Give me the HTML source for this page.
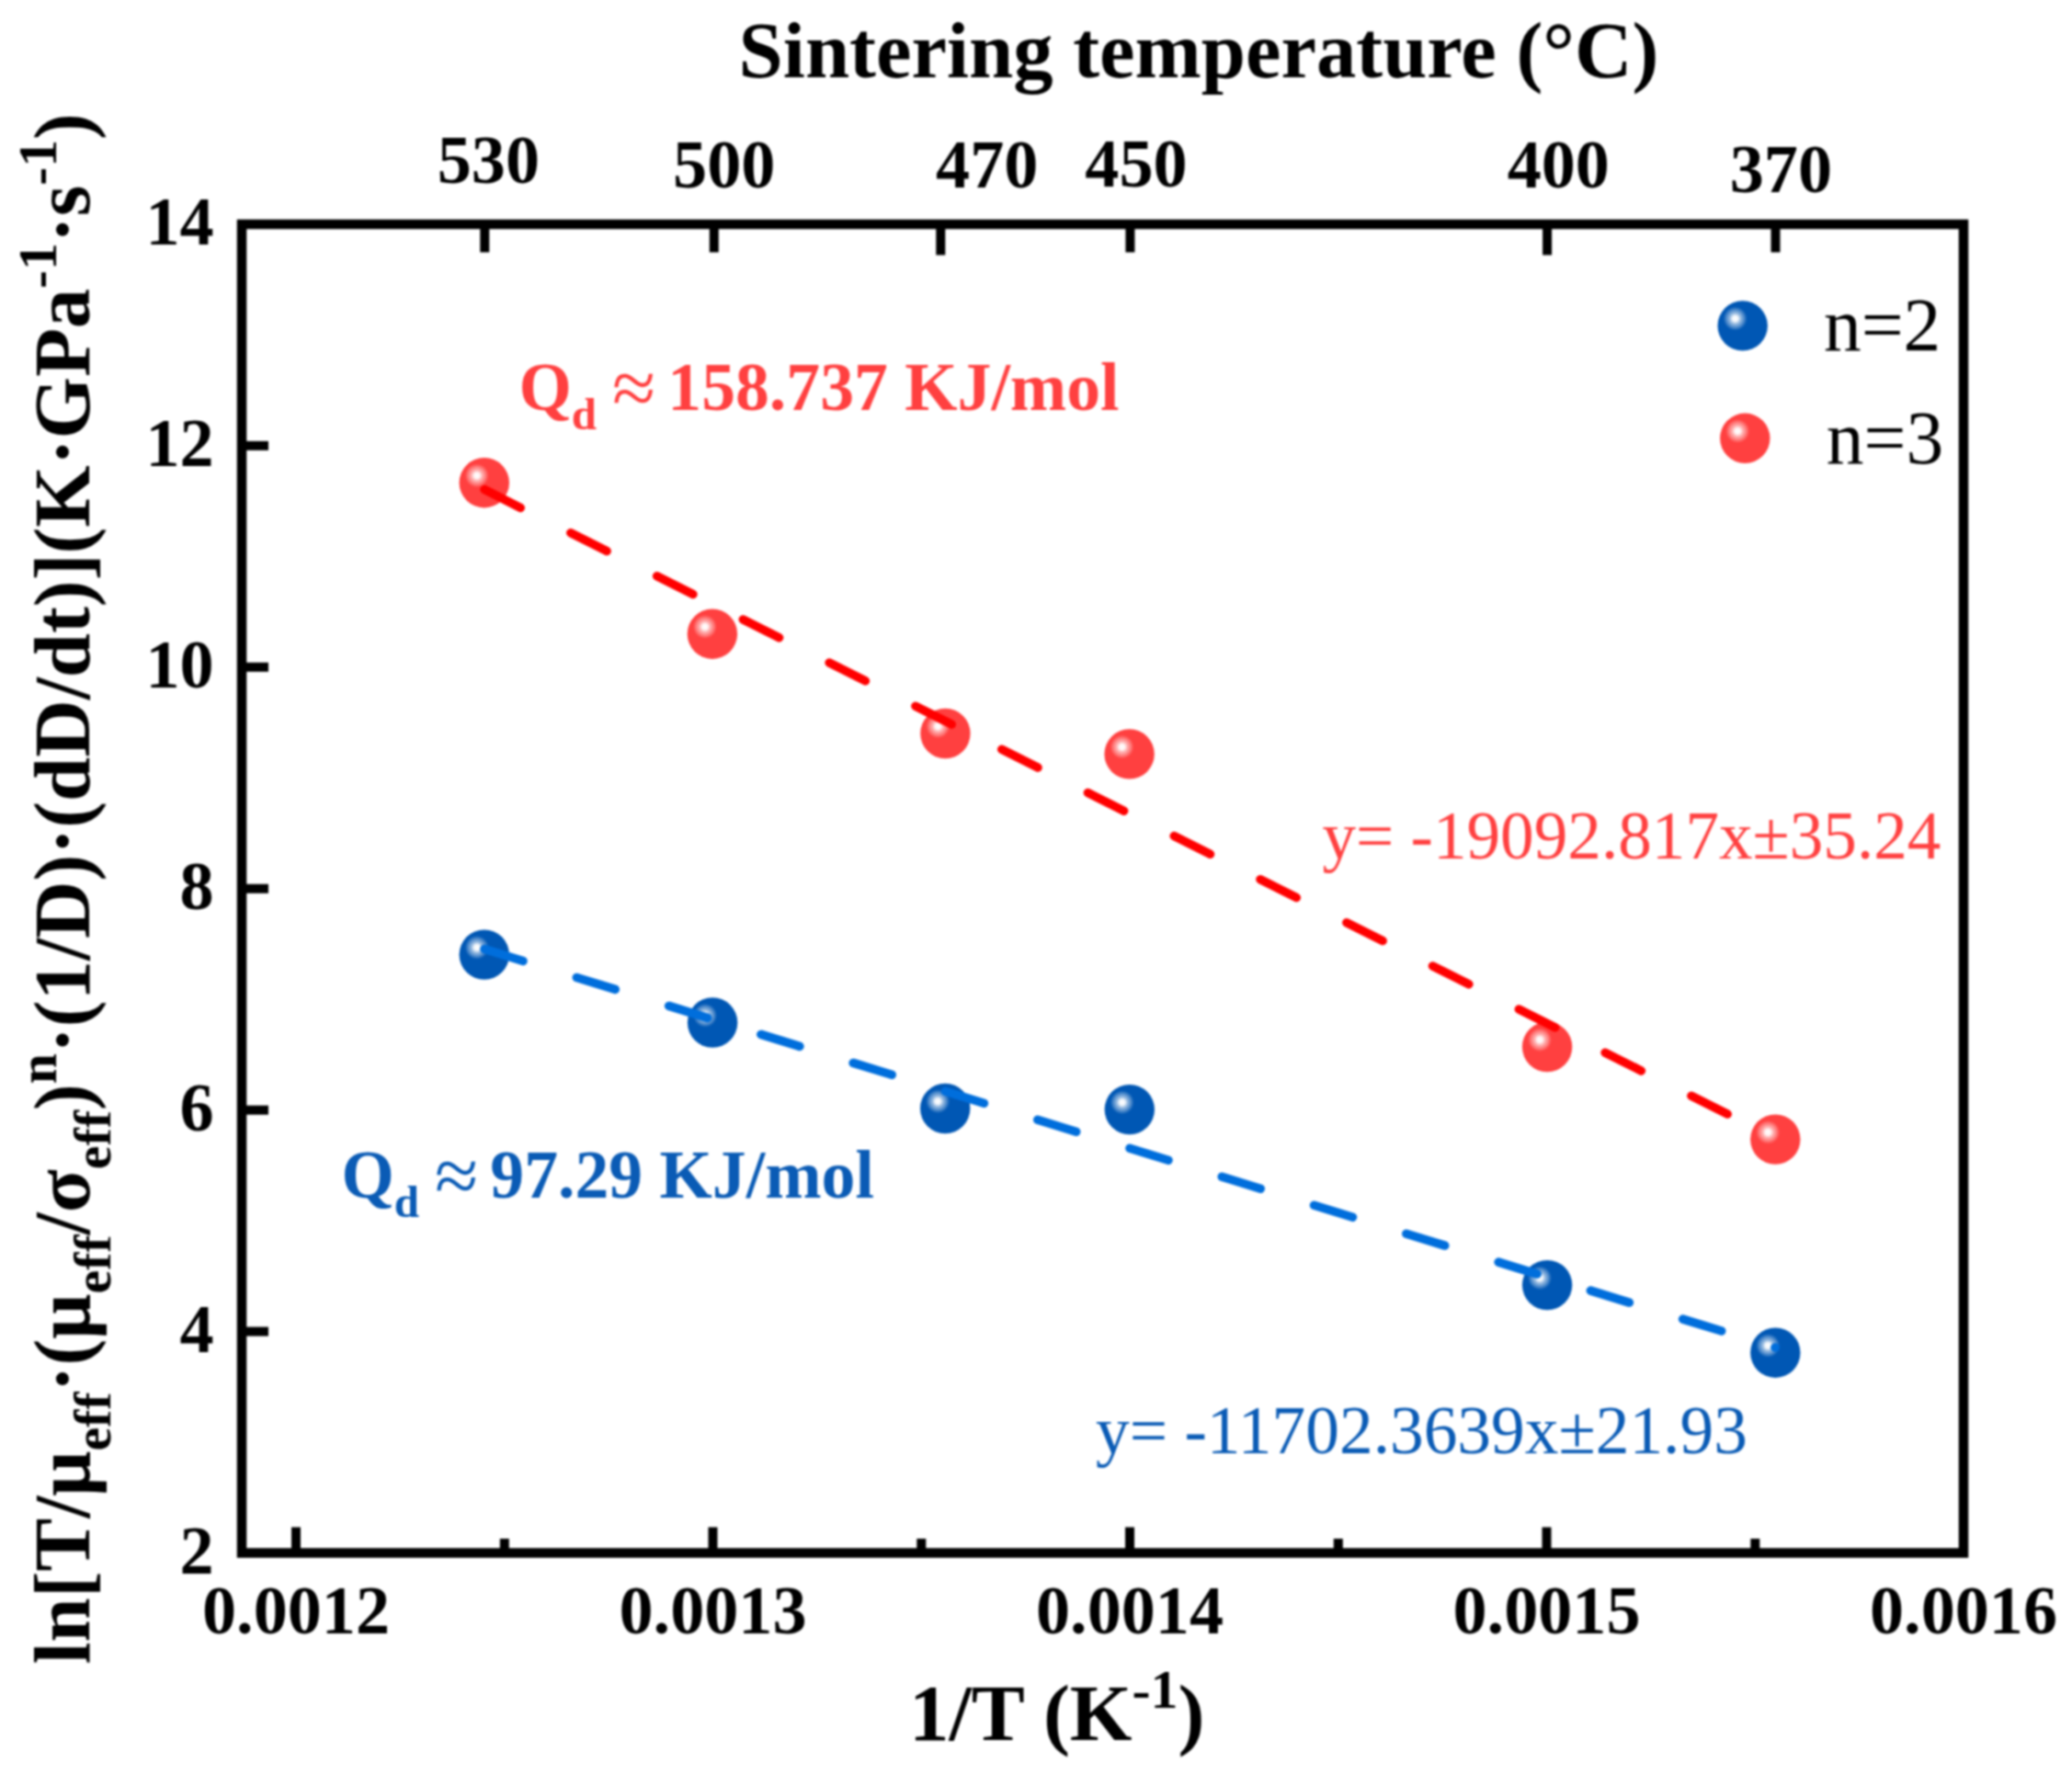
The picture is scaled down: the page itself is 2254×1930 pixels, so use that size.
<!DOCTYPE html>
<html lang="en"><head><meta charset="utf-8"><title>Sintering activation energy plot</title>
<style>html,body{margin:0;padding:0;background:#fff}svg{display:block}text{font-family:"Liberation Serif","Times New Roman",serif}.b{font-weight:bold}</style></head><body>
<svg width="2254" height="1930" viewBox="0 0 2254 1930">
<defs>
<radialGradient id="hl" cx="0.352" cy="0.357" r="0.235" gradientUnits="objectBoundingBox"><stop offset="0" stop-color="#fff" stop-opacity="1"/><stop offset="0.24" stop-color="#fff" stop-opacity="0.95"/><stop offset="0.45" stop-color="#fff" stop-opacity="0.6"/><stop offset="0.7" stop-color="#fff" stop-opacity="0.36"/><stop offset="0.9" stop-color="#fff" stop-opacity="0.14"/><stop offset="1" stop-color="#fff" stop-opacity="0"/></radialGradient>
<filter id="soft" x="0" y="0" width="100%" height="100%" filterUnits="userSpaceOnUse" color-interpolation-filters="sRGB"><feGaussianBlur stdDeviation="0.8"/></filter>
</defs>
<g filter="url(#soft)">
<rect width="2254" height="1930" fill="#fff"/>
<g stroke="#000" stroke-width="10" fill="none">
<line x1="263" y1="484.9" x2="292" y2="484.9"/>
<line x1="263" y1="725.8" x2="292" y2="725.8"/>
<line x1="263" y1="966.8" x2="292" y2="966.8"/>
<line x1="263" y1="1207.7" x2="292" y2="1207.7"/>
<line x1="263" y1="1448.6" x2="292" y2="1448.6"/>
<line x1="322.0" y1="1689.5" x2="322.0" y2="1661.5"/>
<line x1="775.5" y1="1689.5" x2="775.5" y2="1661.5"/>
<line x1="1229.0" y1="1689.5" x2="1229.0" y2="1661.5"/>
<line x1="1682.5" y1="1689.5" x2="1682.5" y2="1661.5"/>
<line x1="548.8" y1="1689.5" x2="548.8" y2="1674.0"/>
<line x1="1002.3" y1="1689.5" x2="1002.3" y2="1674.0"/>
<line x1="1455.8" y1="1689.5" x2="1455.8" y2="1674.0"/>
<line x1="1909.3" y1="1689.5" x2="1909.3" y2="1674.0"/>
<line x1="527.3" y1="244" x2="527.3" y2="274.5"/>
<line x1="776.8" y1="244" x2="776.8" y2="274.5"/>
<line x1="1023.3" y1="241" x2="1023.3" y2="277.5"/>
<line x1="1229.4" y1="244" x2="1229.4" y2="274.5"/>
<line x1="1683.1" y1="241" x2="1683.1" y2="277.5"/>
<line x1="1931.5" y1="244" x2="1931.5" y2="274.5"/>
</g>
<rect x="263" y="244" width="1873" height="1445.5" fill="none" stroke="#000" stroke-width="10.5"/>
<g class="b" font-size="74.2" fill="#000">
<text x="232.6" y="266.0" text-anchor="end">14</text>
<text x="232.6" y="506.9" text-anchor="end">12</text>
<text x="232.6" y="747.8" text-anchor="end">10</text>
<text x="232.6" y="988.8" text-anchor="end">8</text>
<text x="232.6" y="1229.7" text-anchor="end">6</text>
<text x="232.6" y="1470.6" text-anchor="end">4</text>
<text x="232.6" y="1711.5" text-anchor="end">2</text>
<text x="322.0" y="1777" text-anchor="middle">0.0012</text>
<text x="775.5" y="1777" text-anchor="middle">0.0013</text>
<text x="1229.0" y="1777" text-anchor="middle">0.0014</text>
<text x="1682.5" y="1777" text-anchor="middle">0.0015</text>
<text x="2136.0" y="1777" text-anchor="middle">0.0016</text>
<text x="531.4" y="199" text-anchor="middle">530</text>
<text x="787.7" y="204" text-anchor="middle">500</text>
<text x="1073.7" y="204" text-anchor="middle">470</text>
<text x="1236" y="203" text-anchor="middle">450</text>
<text x="1695.3" y="204" text-anchor="middle">400</text>
<text x="1937.4" y="209" text-anchor="middle">370</text>
</g>
<text class="b" x="803.6" y="83.6" font-size="86.7">Sintering temperature (°C)</text>
<text class="b" x="989" y="1893.3" font-size="87">1/T (K<tspan font-size="60" dy="-35">-1</tspan><tspan dy="35">)</tspan></text>
<text class="b" font-size="86.6" transform="translate(97,1810.5) rotate(-90)">ln[T/μ<tspan font-size="57.8" dy="23">eff</tspan><tspan dy="-23">·(μ</tspan><tspan font-size="57.8" dy="23">eff</tspan><tspan dy="-23">/σ</tspan><tspan font-size="57.8" dy="23">eff</tspan><tspan dy="-23">)</tspan><tspan font-size="59.6" dy="-36">n</tspan><tspan dy="36">·(1/D)·(dD/dt)](K·GPa</tspan><tspan font-size="59.6" dy="-36">-1</tspan><tspan dy="36">·s</tspan><tspan font-size="59.6" dy="-36">-1</tspan><tspan dy="36">)</tspan></text>
<circle cx="526.8" cy="1038.6" r="27.2" fill="#0057b4"/><circle cx="526.8" cy="1038.6" r="27.2" fill="url(#hl)"/>
<circle cx="775.1" cy="1112.5" r="27.2" fill="#0057b4"/><circle cx="775.1" cy="1112.5" r="27.2" fill="url(#hl)"/>
<circle cx="1028.2" cy="1206" r="27.2" fill="#0057b4"/><circle cx="1028.2" cy="1206" r="27.2" fill="url(#hl)"/>
<circle cx="1228.8" cy="1207.1" r="27.2" fill="#0057b4"/><circle cx="1228.8" cy="1207.1" r="27.2" fill="url(#hl)"/>
<circle cx="1683.1" cy="1398.1" r="27.2" fill="#0057b4"/><circle cx="1683.1" cy="1398.1" r="27.2" fill="url(#hl)"/>
<circle cx="1931.3" cy="1471.7" r="27.2" fill="#0057b4"/><circle cx="1931.3" cy="1471.7" r="27.2" fill="url(#hl)"/>
<circle cx="526.8" cy="525.2" r="27.2" fill="#ff4040"/><circle cx="526.8" cy="525.2" r="27.2" fill="url(#hl)"/>
<circle cx="774.9" cy="689.7" r="27.2" fill="#ff4040"/><circle cx="774.9" cy="689.7" r="27.2" fill="url(#hl)"/>
<circle cx="1028.4" cy="798" r="27.2" fill="#ff4040"/><circle cx="1028.4" cy="798" r="27.2" fill="url(#hl)"/>
<circle cx="1228.6" cy="820.4" r="27.2" fill="#ff4040"/><circle cx="1228.6" cy="820.4" r="27.2" fill="url(#hl)"/>
<circle cx="1683.1" cy="1139" r="27.2" fill="#ff4040"/><circle cx="1683.1" cy="1139" r="27.2" fill="url(#hl)"/>
<circle cx="1931.3" cy="1239.6" r="27.2" fill="#ff4040"/><circle cx="1931.3" cy="1239.6" r="27.2" fill="url(#hl)"/>
<path d="M527.0 532.6L566.3 552.4M620.8 579.7L660.1 599.5M714.6 626.8L753.9 646.6M808.3 674.0L847.6 693.7M902.1 721.1L941.4 740.8M995.9 768.2L1035.2 788.0M1089.7 815.3L1129.0 835.1M1183.4 862.5L1222.7 882.2M1277.2 909.6L1316.5 929.3M1371.0 956.7L1410.3 976.5M1464.8 1003.8L1504.1 1023.6M1558.5 1050.9L1597.9 1070.7M1652.3 1098.1L1691.6 1117.8M1746.1 1145.2L1785.4 1164.9M1839.9 1192.3L1879.2 1212.1" stroke="#ff0000" stroke-width="9.5" stroke-linecap="round" fill="none"/>
<path d="M527.0 1032.5L569.0 1045.5M627.3 1063.5L669.3 1076.4M727.6 1094.4L769.6 1107.4M827.8 1125.4L869.9 1138.4M928.1 1156.4L970.2 1169.3M1028.4 1187.3L1070.4 1200.3M1128.7 1218.3L1170.7 1231.3M1228.9 1249.3L1271.0 1262.2M1329.2 1280.2L1371.3 1293.2M1429.5 1311.2L1471.5 1324.2M1529.8 1342.2L1571.8 1355.1M1630.1 1373.1L1672.1 1386.1M1730.3 1404.1L1772.4 1417.1M1830.6 1435.1L1872.7 1448.0M1930.9 1466.0L1931.2 1466.1" stroke="#006edc" stroke-width="9.5" stroke-linecap="round" fill="none"/>
<circle cx="1895.7" cy="354.4" r="27.2" fill="#0057b4"/><circle cx="1895.7" cy="354.4" r="27.2" fill="url(#hl)"/>
<circle cx="1898.3" cy="476.8" r="27.2" fill="#ff4040"/><circle cx="1898.3" cy="476.8" r="27.2" fill="url(#hl)"/>
<text x="1983.9" y="381.2" font-size="81.5">n=2</text>
<text x="1986.8" y="503.6" font-size="81.5">n=3</text>
<text class="b" x="564.4" y="446" font-size="73.7" fill="#ff4040">Q<tspan font-size="49" dy="20.8">d</tspan><tspan dy="-20.8"> </tspan><tspan font-weight="normal" font-size="86" dx="-1.5" dy="5">≈</tspan><tspan dx="-5.2" dy="-5"> 158.737 KJ/mol</tspan></text>
<text class="b" x="371.4" y="1303" font-size="73.7" fill="#0a5bb5">Q<tspan font-size="49" dy="20.8">d</tspan><tspan dy="-20.8"> </tspan><tspan font-weight="normal" font-size="86" dx="-1.5" dy="5">≈</tspan><tspan dx="-5.2" dy="-5"> 97.29 KJ/mol</tspan></text>
<text x="1438.4" y="934" font-size="73.2" fill="#ff4040">y= -19092.817x±35.24</text>
<text x="1192" y="1580.5" font-size="73.4" fill="#0a5bb5">y= -11702.3639x±21.93</text>
</g></svg></body></html>
